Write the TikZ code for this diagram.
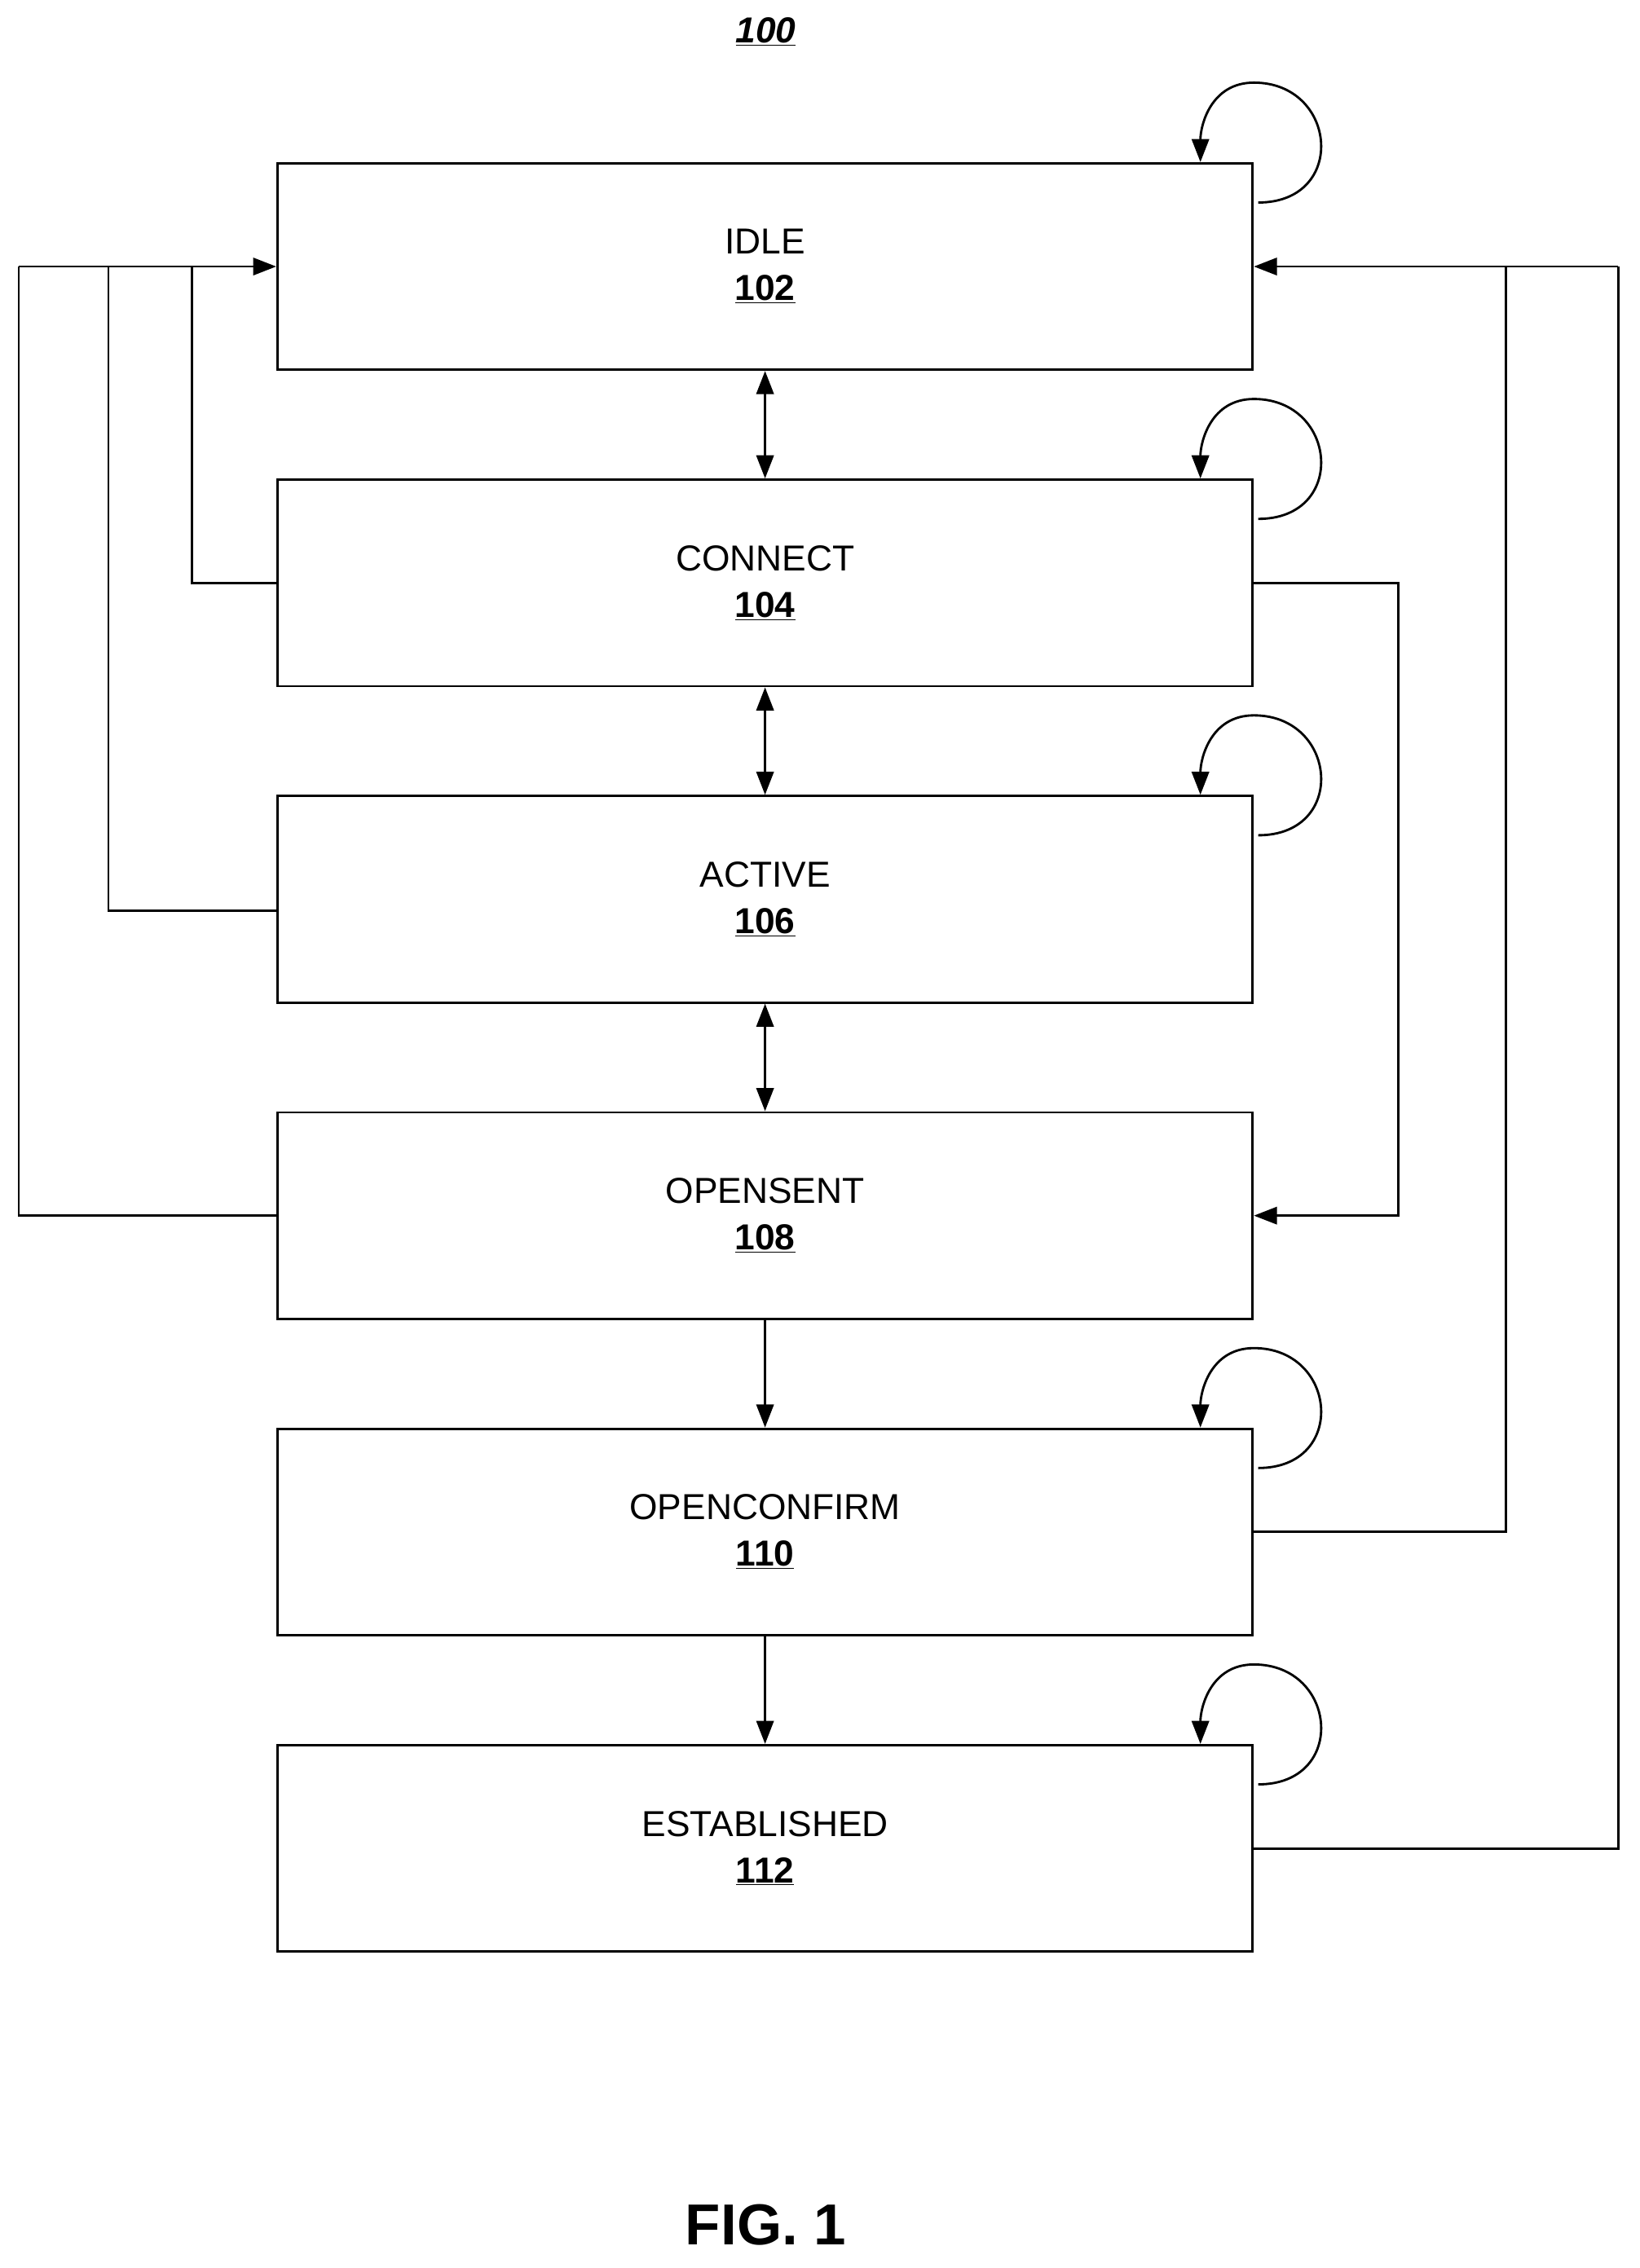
\documentclass[tikz,border=0pt]{standalone}
\usepackage{fontspec}
\setmainfont{Liberation Sans}
\usetikzlibrary{arrows.meta,calc}
\begin{document}
\begin{tikzpicture}[x=1pt,y=-1pt,
  box/.style={draw,line width=1.6pt,minimum width=675pt,minimum height=143pt,inner sep=0pt,align=center,font=\fontsize{25}{32}\selectfont},
  ln/.style={line width=1.6pt},
  arr/.style={ln,-{Triangle[length=16pt,width=12pt]}},
  darr/.style={ln,{Triangle[length=16pt,width=12pt]}-{Triangle[length=16pt,width=12pt]}}]
\useasboundingbox (0,0) rectangle (1135,1570);
\node (t) at (530,22) {\fontsize{25}{30}\selectfont\textbf{\textit{\underline{100}}}};
\node[box] (idle) at (529.5,184.5) {IDLE\\\textbf{\underline{102}}};
\node[box] (conn) at (529.5,403.5) {CONNECT\\\textbf{\underline{104}}};
\node[box] (act) at (529.5,622.5) {ACTIVE\\\textbf{\underline{106}}};
\node[box] (os) at (529.5,841.5) {OPENSENT\\\textbf{\underline{108}}};
\node[box] (oc) at (529.5,1060.5) {OPENCONFIRM\\\textbf{\underline{110}}};
\node[box] (est) at (529.5,1279.5) {ESTABLISHED\\\textbf{\underline{112}}};
\node (fig) at (530,1540) {\fontsize{40}{46}\selectfont\textbf{FIG. 1}};
\draw[darr] (idle.south) -- (conn.north);
\draw[darr] (conn.south) -- (act.north);
\draw[darr] (act.south) -- (os.north);
\draw[arr] (os.south) -- (oc.north);
\draw[arr] (oc.south) -- (est.north);
\foreach \b in {idle,conn,act,oc,est}{
  \draw[arr] ($(\b.north east)+(3,28)$) .. controls +(62,0) and +(58,0) .. ($(\b.north east)+(0,-55)$) .. controls +(-30,0) and +(0,-25) .. ($(\b.north east)+(-37,0)$);
}
\coordinate (li) at (13,184.5);
\draw[ln] (os.west) -- (13,841.5) -- (li);
\draw[ln] ($(act.west)+(0,8)$) -- (75,630.5) -- (75,184.5);
\draw[ln] (conn.west) -- (133,403.5) -- (133,184.5);
\draw[arr] (li) -- (idle.west);
\draw[arr] (conn.east) -- (968,403.5) -- (968,841.5) -- (os.east);
\draw[ln] (oc.east) -- (1042,1060.5) -- (1042,184.5);
\coordinate (ri) at (1120,184.5);
\draw[ln] (est.east) -- (1120,1279.5) -- (ri);
\draw[arr] (ri) -- (idle.east);
\end{tikzpicture}
\end{document}
